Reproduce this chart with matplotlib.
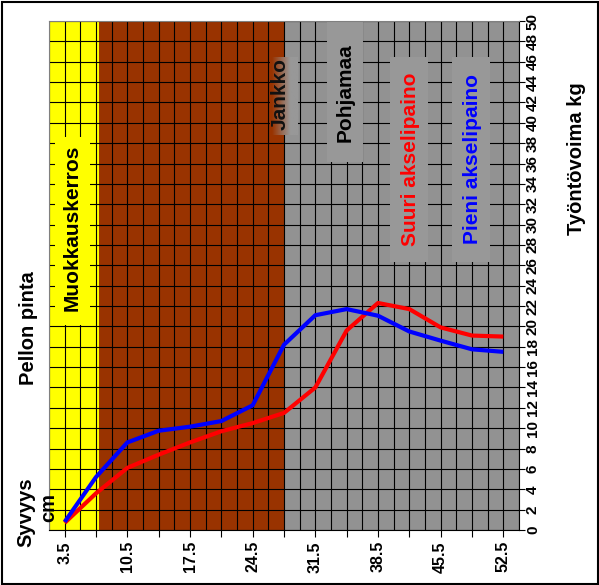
import matplotlib
matplotlib.use("Agg")
import matplotlib.pyplot as plt
from matplotlib.patches import Rectangle
import numpy as np

# depth (cm) and draft force (kg)
depth = [3.5, 7, 10.5, 14, 17.5, 21, 24.5, 28, 31.5, 35, 38.5, 42, 45.5, 49, 52.5]
suuri = [0.7, 3.6, 6.1, 7.4, 8.6, 9.7, 10.5, 11.5, 14.0, 19.6, 22.3, 21.7, 19.9, 19.1, 19.0]
pieni = [0.8, 5.2, 8.6, 9.75, 10.15, 10.7, 12.25, 18.2, 21.1, 21.7, 21.05, 19.5, 18.6, 17.75, 17.5]

depth_labels = [3.5, 10.5, 17.5, 24.5, 31.5, 38.5, 45.5, 52.5]
force_ticks = list(range(0, 51, 2))

# soil layers
layer_names = ["Muokkauskerros", "Jankko", "Pohjamaa"]
layer_from = [1.75, 7.3, 28]
layer_to = [7.3, 28, 54.25]

YELLOW = "#ffff00"
BROWN = "#993300"
GRAY = "#929292"
BOXGRAY = "#989898"
layer_colors = [YELLOW, BROWN, GRAY]

plt.rcParams['font.family'] = ['Liberation Sans', 'DejaVu Sans']
plt.rcParams['font.weight'] = 'bold'

fig = plt.figure(figsize=(5.99, 5.85), dpi=100)
ax = fig.add_axes([49/599, 55/585, 470/599, 509/585])

for lo, hi, c in zip(layer_from, layer_to, layer_colors):
    ax.axvspan(lo, hi, color=c, lw=0, zorder=0)

ax.plot(depth, suuri, color='#ff0000', lw=3, zorder=4, solid_capstyle='butt')
ax.plot(depth, pieni, color='#0000ff', lw=3, zorder=4, solid_capstyle='butt')

ax.set_xlim(1.75, 54.25)
ax.set_ylim(0, 50)

# x axis: ticks at every category, labels every other
ax.set_xticks(depth)
ax.set_xticklabels(["%g" % d if d in depth_labels else "" for d in depth],
                   rotation=90, fontsize=11.5, fontweight='bold')
ax.set_xticks(np.arange(1.75, 54.3, 1.75), minor=True)
ax.tick_params(axis='x', which='minor', length=0)
ax.tick_params(axis='x', which='major', length=5, width=0.8, direction='out', pad=3)
ax.grid(which='both', axis='x', color='black', lw=0.8)

# y axis on the right
ax.yaxis.tick_right()
ax.set_yticks(force_ticks)
ax.set_yticklabels([str(v) for v in force_ticks], rotation=90, va='center',
                   fontsize=11, fontweight='bold')
ax.tick_params(axis='y', length=4, width=0.8, direction='out', pad=1)
ax.grid(which='major', axis='y', color='black', lw=0.8)
ax.set_axisbelow('line')

for s in ['left', 'top']:
    ax.spines[s].set_color('#808080')
for s in ['bottom', 'right']:
    ax.spines[s].set_color('black')

# label boxes (axes fraction) covering the grid
def box(x0, x1, y0, y1, fc):
    ax.add_patch(Rectangle((x0, y0), x1 - x0, y1 - y0, transform=ax.transAxes,
                           fc=fc, ec='none', zorder=2))

box(0.013, 0.087, 0.403, 0.772, YELLOW)
box(0.591, 0.668, 0.723, 1.0, BOXGRAY)
box(0.726, 0.806, 0.527, 0.929, BOXGRAY)
box(0.857, 0.938, 0.527, 0.929, BOXGRAY)

# Jankko box fades from brown into gray
b = np.array(matplotlib.colors.to_rgb(BROWN))
g = np.array(matplotlib.colors.to_rgb(BOXGRAY))
t = np.clip(np.linspace(-0.1, 1.4, 60), 0, 1)
grad = (b[None, :] * (1 - t[:, None]) + g[None, :] * t[:, None])[None, :, :]
ax.imshow(grad, extent=(0.470, 0.528, 0.776, 0.929), transform=ax.transAxes,
          aspect='auto', zorder=2, interpolation='bilinear')

tk = dict(rotation=90, ha='center', va='center', fontsize=15,
          fontweight='bold', transform=ax.transAxes, zorder=5)
ax.text(0.049, 0.594, layer_names[0], color='black', **tk)
ax.text(0.491, 0.857, layer_names[1], color='#111111', **tk)
ax.text(0.630, 0.860, layer_names[2], color='black', **tk)
ax.text(0.770, 0.729, "Suuri akselipaino", color='#ff0000', **tk)
ax.text(0.900, 0.729, "Pieni akselipaino", color='#0000ff', **tk)

ax.set_xlim(1.75, 54.25)
ax.set_ylim(0, 50)

# labels outside the plot
ft = dict(rotation=90, ha='center', va='center', fontsize=14.5, fontweight='bold')
fig.text(28/599, 1 - 328/585, "Pellon pinta", **ft)
fig.text(26/599, 1 - 512/585, "Syvyys", **ft)
fig.text(49/599, 1 - 507/585, "cm", **ft)
fig.text(577/599, 1 - 159/585, "Työntövoima kg", **ft)

# frame around the whole picture
fig.patches.append(Rectangle((1.5/599, 1.5/585), 596/599, 582/585,
                             transform=fig.transFigure, fill=False,
                             ec='black', lw=1.5))

fig.savefig("out.png", dpi=100)
